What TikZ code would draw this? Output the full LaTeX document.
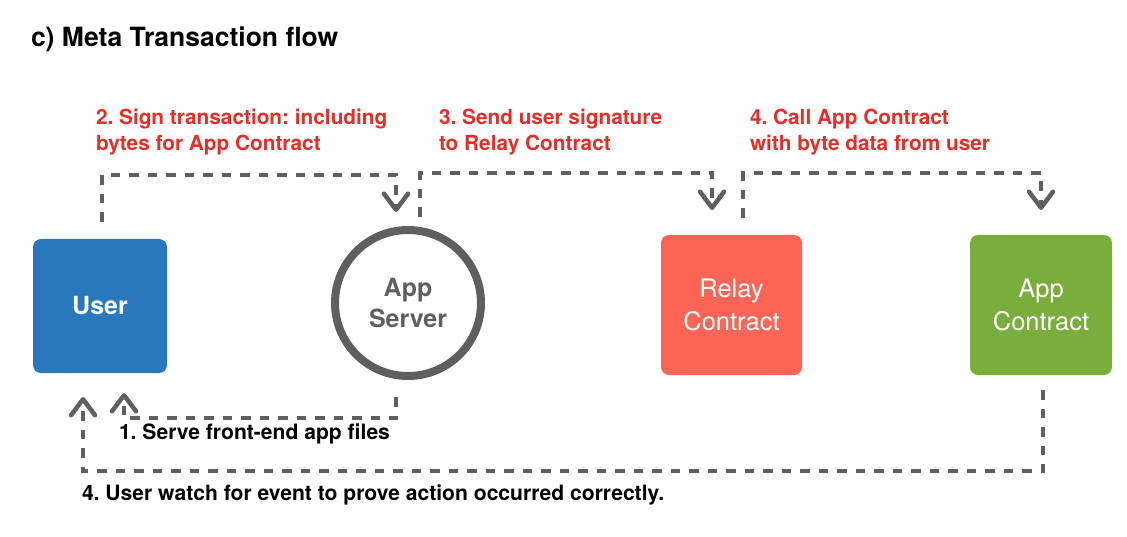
\documentclass[tikz,border=0pt]{standalone}
\usepackage{fontspec}
\setmainfont{TeX Gyre Heros}
\setsansfont{TeX Gyre Heros}
\usetikzlibrary{arrows.meta,positioning,calc}
\definecolor{userblue}{RGB}{40,120,190}
\definecolor{relayred}{RGB}{252,101,86}
\definecolor{appgreen}{RGB}{121,174,60}
\definecolor{flowgray}{RGB}{95,95,95}
\definecolor{steptext}{RGB}{230,45,38}
\frenchspacing

\begin{document}
\begin{tikzpicture}[x=1pt, y=1pt,
  every node/.style={inner sep=0pt, outer sep=0pt},
  box/.style={rounded corners=8pt, text=white, align=center, font=\fontsize{25.5}{33}\selectfont},
  flow/.style={draw=flowgray, line width=4.5pt, dash pattern=on 9.5pt off 9pt,
    -{Straight Barb[length=16pt, width=24pt, round]}},
  note/.style={anchor=north west, align=left, text=steptext, font=\bfseries\fontsize{20.8}{26}\selectfont},
  remark/.style={note, text=black, font=\bfseries\fontsize{21.1}{26}\selectfont},
]
\useasboundingbox (0,0) rectangle (1127,-537);

\node[anchor=base west, font=\bfseries\fontsize{26.5}{30}\selectfont] (title) at (31,-46.5) {c) Meta Transaction flow};

\node[box, fill=userblue, minimum width=134pt, minimum height=134pt,
  font=\bfseries\fontsize{25}{32}\selectfont] (user) at (100,-306) {User};
\node[circle, draw=flowgray, line width=8pt, minimum size=146pt, align=center, text=flowgray,
  font=\bfseries\fontsize{25}{31}\selectfont] (server) at (408,-303) {App\\Server};
\node[box, fill=relayred, minimum width=141pt, minimum height=140pt] (relay) at (731.5,-305) {Relay\\Contract};
\node[box, fill=appgreen, minimum width=142pt, minimum height=140pt] (contract) at (1041,-305) {App\\Contract};

% step labels
\node[note] (sign) at (96,-109) {2. Sign transaction: including\\bytes for App Contract};
\node[note] (send) at (439,-109) {3. Send user signature\\to Relay Contract};
\node[note] (call) at (750,-109) {4. Call App Contract\\with byte data from user};
\node[remark] (serve) at (119,-424) {1. Serve front-end app files};
\node[remark] (watch) at (82,-485) {4. User watch for event to prove action occurred correctly.};

% connectors
\draw[flow] ([xshift=2pt,yshift=17pt]user.north) -- ++(0,47) -| ([xshift=-12pt,yshift=18pt]server.north);
\draw[flow] ([xshift=12pt,yshift=13pt]server.north) -- ++(0,44) -| ([xshift=-19.5pt,yshift=25pt]relay.north);
\draw[flow] ([xshift=11.5pt,yshift=17pt]relay.north) -- ++(0,45) -| ([yshift=25pt]contract.north);
\draw[flow] ([xshift=-12pt,yshift=-21pt]server.south) -- ++(0,-21) -| ([xshift=24pt,yshift=-20pt]user.south);
\draw[flow] ([xshift=2pt,yshift=-15pt]contract.south) -- ++(0,-81) -| ([xshift=-17pt,yshift=-24pt]user.south);

\end{tikzpicture}
\end{document}
